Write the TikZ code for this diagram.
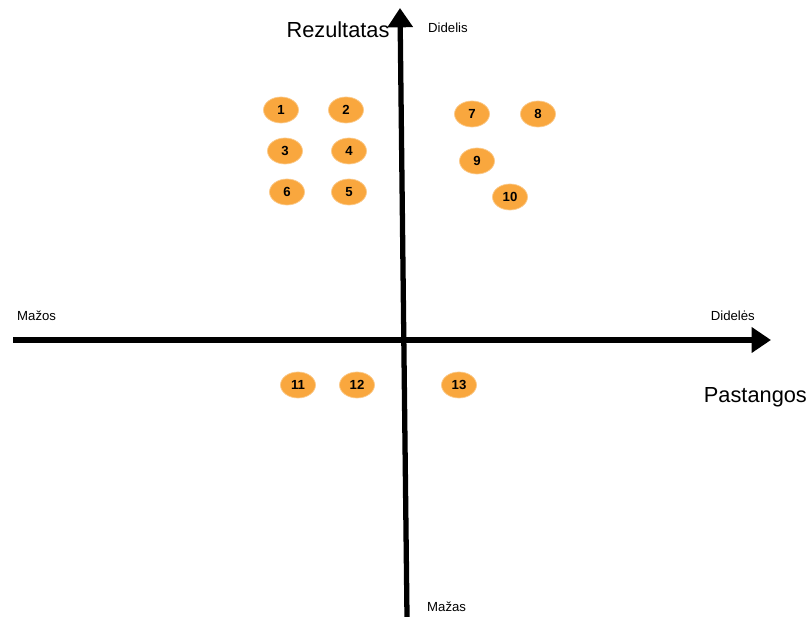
\documentclass[tikz,border=0pt]{standalone}
\usepackage{fontspec}
\setmainfont{Liberation Sans}
\usetikzlibrary{arrows.meta,shapes.geometric}

\definecolor{bubble}{RGB}{249,167,62}

\tikzset{
  axis/.style={line width=3pt, -{Triangle[length=11pt,width=14pt]}},
  item/.style={ellipse, fill=bubble, draw=bubble!60, line width=0.4pt,
    minimum width=35*0.02cm, minimum height=26*0.02cm, inner sep=0pt,
    font=\fontsize{7.5}{8}\selectfont\bfseries},
  small/.style={font=\fontsize{7.5}{9}\selectfont},
  big/.style={font=\fontsize{12.4}{15}\selectfont}
}

\begin{document}
\begin{tikzpicture}[x=0.02cm, y=-0.02cm]
  \useasboundingbox (0,0) rectangle (812,617);

  % axes
  \coordinate (xl) at (13,340);
  \coordinate (xr) at (771,340);
  \coordinate (yb) at (407,617);
  \coordinate (yt) at (400,8);
  \draw[axis] (xl) -- (xr);
  \draw[axis] (yb) -- (yt);

  % axis labels
  \node[big, anchor=base] (rez) at (338,38) {Rezultatas};
  \node[big, anchor=east, inner sep=1pt] (pas) at (809,397) {Pastangos};
  \node[small, anchor=west] (ytop) at (422,28) {Didelis};
  \node[small, anchor=west] (ybot) at (421,607) {Mažas};
  \node[small, anchor=west] (xleft) at (11,316) {Mažos};
  \node[small, anchor=east] (xright) at (761,316) {Didelės};

  % items
  \foreach \n/\x/\y in {1/281/110, 2/346/110, 3/285/151, 4/349/151,
      6/287/192, 5/349/192, 7/472/114, 8/538/114, 9/477/161, 10/510/197,
      11/298/385, 12/357/385, 13/459/385}
    \node[item] (i\n) at (\x,\y) {\n};
\end{tikzpicture}
\end{document}
